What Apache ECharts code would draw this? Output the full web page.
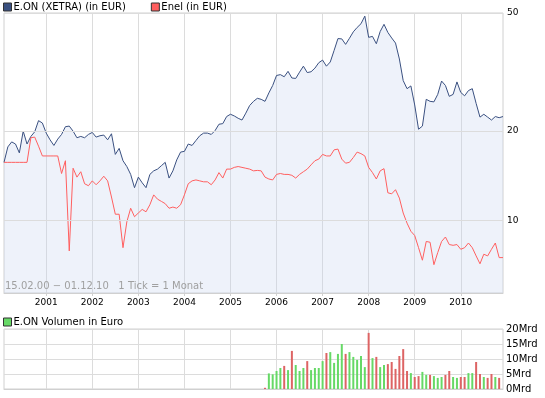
<!DOCTYPE html>
<html>
<head>
<meta charset="utf-8">
<title>E.ON / Enel</title>
<script src="https://cdn.jsdelivr.net/npm/echarts@6.0.0/dist/echarts.min.js"></script>
<style>
  html, body { margin: 0; padding: 0; background: #fff; }
  #chart { width: 545px; height: 398px; }
</style>
</head>
<body>
<div id="chart"></div>
<script>
// monthly closes in EUR, Feb 2000 .. Dec 2010
const eonPrice = [
  15.7, 17.7, 18.4, 18.1, 16.9, 20.0, 18.1, 19.2, 19.9, 21.7,
  21.3, 19.7, 18.7, 17.9, 18.8, 19.5, 20.7, 20.8, 20.0, 19.0,
  19.2, 19.0, 19.5, 19.8, 19.1, 19.3, 19.4, 18.7, 19.6, 16.7,
  17.5, 15.9, 15.2, 14.3, 12.9, 14.0, 13.4, 12.9, 14.3, 14.7,
  14.9, 15.3, 15.7, 13.9, 14.7, 16.0, 17.0, 17.1, 18.1, 17.9,
  18.6, 19.3, 19.7, 19.7, 19.5, 20.1, 21.1, 21.2, 22.4, 22.8,
  22.5, 22.1, 21.8, 23.0, 24.4, 25.2, 25.8, 25.6, 25.2, 26.9,
  28.5, 30.8, 31.0, 30.5, 31.8, 30.2, 30.1, 31.6, 33.1, 31.5,
  31.7, 32.6, 34.0, 34.7, 33.1, 34.2, 37.4, 41.0, 40.9, 39.2,
  41.1, 43.2, 44.7, 46.0, 48.8, 41.4, 41.7, 39.4, 43.3, 45.8,
  43.0, 41.2, 39.6, 35.0, 29.6, 27.8, 28.4, 24.5, 20.3, 20.8,
  25.6, 25.2, 25.1, 26.6, 29.5, 28.5, 26.2, 26.6, 29.3, 27.0,
  26.3, 27.4, 27.8, 24.8, 22.3, 22.8, 22.3, 21.8, 22.4, 22.2,
  22.4
];
const enelPrice = [
  15.7, 15.7, 15.7, 15.7, 15.7, 15.7, 15.7, 19.0, 19.1, 17.8,
  16.5, 16.5, 16.5, 16.5, 16.5, 14.4, 15.9, 7.9, 15.0, 14.0,
  14.6, 13.3, 13.1, 13.6, 13.2, 13.6, 14.1, 13.6, 12.0, 10.5,
  10.5, 8.1, 9.9, 11.0, 10.3, 10.6, 10.9, 10.7, 11.3, 12.2,
  11.8, 11.6, 11.4, 11.0, 11.1, 11.0, 11.3, 12.2, 13.3, 13.6,
  13.7, 13.6, 13.5, 13.5, 13.2, 13.7, 14.5, 13.9, 14.9, 14.9,
  15.1, 15.2, 15.1, 15.0, 14.9, 14.7, 14.75, 14.7, 14.0, 13.8,
  13.7, 14.3, 14.4, 14.3, 14.3, 14.2, 13.9, 14.3, 14.6, 14.9,
  15.4, 15.9, 16.1, 16.7, 16.5, 16.5, 17.3, 17.4, 16.1, 15.6,
  15.7, 16.3, 17.0, 16.8, 16.5, 15.1, 14.5, 13.8, 14.7, 14.95,
  12.4, 12.3, 12.7, 11.9, 10.6, 9.8, 9.2, 8.9, 8.1, 7.35,
  8.5, 8.45, 7.1, 7.8, 8.5, 8.8, 8.3, 8.25, 8.3, 8.0,
  8.1, 8.4, 8.1, 7.6, 7.15, 7.7, 7.6, 8.0, 8.4, 7.5,
  7.5
];

// E.ON turnover in Mrd EUR per month, from Oct 2005 on
const volumeFrom = '2005-10';
const volumeMrd = [
  0.4, 5.2, 4.9, 6.0, 7.0, 7.7, 6.3, 12.7, 8.0, 6.0,
  7.0, 9.3, 6.3, 7.0, 7.0, 9.3, 12.0, 12.3, 8.7, 11.7,
  15.0, 11.7, 12.3, 10.7, 9.7, 11.0, 7.3, 18.7, 10.3, 10.7,
  7.3, 8.0, 8.3, 9.0, 6.7, 11.0, 13.3, 6.0, 5.3, 4.0,
  4.3, 5.7, 4.7, 4.7, 4.3, 3.7, 4.0, 4.7, 6.0, 4.0,
  3.7, 4.0, 4.0, 5.3, 5.3, 9.0, 5.0, 4.0, 3.7, 5.0,
  4.0, 3.7
];
// 1 = up month (green), 0 = down month (red)
const volumeUp = [
  0, 1, 1, 1, 1, 0, 1, 0, 1, 1,
  1, 0, 1, 1, 1, 1, 0, 1, 1, 1,
  1, 0, 1, 1, 1, 1, 1, 0, 1, 0,
  1, 1, 0, 0, 0, 0, 0, 0, 1, 0,
  0, 1, 1, 0, 1, 1, 1, 0, 0, 1,
  1, 0, 0, 1, 1, 0, 0, 1, 0, 0,
  1, 0
];
const priceTicks = [10, 20, 50];

const months = [];
for (let y = 2000; y <= 2010; y++) {
  for (let m = 1; m <= 12; m++) {
    if (y === 2000 && m < 2) continue;
    months.push(y + '-' + String(m).padStart(2, '0'));
  }
}

const FONT = 'DejaVu Sans';
const GRID = '#dcdcdc';
const UP = '#66d966';
const DOWN = '#dd6464';

const isJan = (i, v) => v.slice(5) === '01';

const volStart = months.indexOf(volumeFrom);
const volData = months.map((m, i) => {
  const k = i - volStart;
  if (k < 0 || k >= volumeMrd.length) return '-';
  return { value: volumeMrd[k], itemStyle: { color: volumeUp[k] ? UP : DOWN } };
});

const legendBase = {
  left: 3,
  padding: 0,
  itemGap: 25,
  itemWidth: 8,
  itemHeight: 8,
  icon: 'rect',
  itemStyle: { borderColor: '#333', borderWidth: 1 },
  textStyle: { fontFamily: FONT, fontSize: 10, color: '#000', padding: [0, 0, 0, -3] }
};

const xBase = {
  type: 'category',
  data: months,
  boundaryGap: false,
  axisLine: { lineStyle: { color: '#d0d0d0' } },
  splitLine: { show: true, interval: isJan, lineStyle: { color: GRID } }
};

let myChart = echarts.init(document.getElementById('chart'));
myChart.setOption({
  animation: false,
  textStyle: { fontFamily: FONT },
  title: {
    text: '15.02.00 − 01.12.10   1 Tick = 1 Monat',
    left: 5,
    top: 281,
    padding: 0,
    textStyle: { fontFamily: FONT, fontSize: 10, fontWeight: 'normal', color: '#a0a0a0' }
  },
  legend: [
    Object.assign({}, legendBase, { top: 2, data: ['E.ON (XETRA) (in EUR)', 'Enel (in EUR)'] }),
    Object.assign({}, legendBase, { top: 317, data: ['E.ON Volumen in Euro'] })
  ],
  grid: [
    { left: 4, right: 42, top: 13, height: 280, show: true, borderColor: '#d0d0d0', outerBoundsMode: 'none' },
    { left: 4, right: 42, top: 329, height: 60, show: true, borderColor: '#d0d0d0', outerBoundsMode: 'none' }
  ],
  xAxis: [
    Object.assign({}, xBase, {
      gridIndex: 0,
      axisTick: { show: true, interval: isJan, length: 3, lineStyle: { color: '#d0d0d0' } },
      axisLabel: { interval: isJan, formatter: v => v.slice(0, 4), fontFamily: FONT, fontSize: 9, color: '#000', margin: 5 }
    }),
    Object.assign({}, xBase, {
      gridIndex: 1,
      axisTick: { show: false },
      axisLabel: { show: false }
    })
  ],
  yAxis: [
    {
      gridIndex: 0,
      type: 'log',
      position: 'right',
      min: 5.7,
      max: 50,
      axisLine: { show: false },
      axisTick: { show: false },
      axisLabel: { show: false },
      splitLine: { show: false }
    },
    {
      gridIndex: 1,
      type: 'value',
      position: 'right',
      min: 0,
      max: 20,
      interval: 5,
      axisLine: { show: false },
      axisTick: { show: false },
      axisLabel: { formatter: '{value}Mrd', fontFamily: FONT, fontSize: 10, color: '#000', margin: 3 },
      splitLine: { lineStyle: { color: GRID } }
    }
  ],
  series: [
    {
      name: 'E.ON (XETRA) (in EUR)',
      type: 'line',
      data: eonPrice,
      color: '#3a5080',
      symbol: 'none',
      lineStyle: { width: 1 },
      areaStyle: { color: 'rgb(200,212,240)', opacity: 0.3, origin: 'start' },
      markLine: {
        silent: true,
        symbol: ['none', 'none'],
        lineStyle: { color: GRID, type: 'solid', width: 1 },
        label: { position: 'end', formatter: p => String(p.value), fontFamily: FONT, fontSize: 9, color: '#000', distance: 4 },
        emphasis: { disabled: true },
        data: priceTicks.map(v => ({ yAxis: v }))
      }
    },
    {
      name: 'Enel (in EUR)',
      type: 'line',
      data: enelPrice,
      color: '#ff5f5f',
      symbol: 'none',
      lineStyle: { width: 1 }
    },
    {
      name: 'E.ON Volumen in Euro',
      type: 'bar',
      xAxisIndex: 1,
      yAxisIndex: 1,
      data: volData,
      color: UP,
      barWidth: 2
    }
  ]
});
window.onresize = function () {
  myChart.resize();
};
</script>
</body>
</html>
